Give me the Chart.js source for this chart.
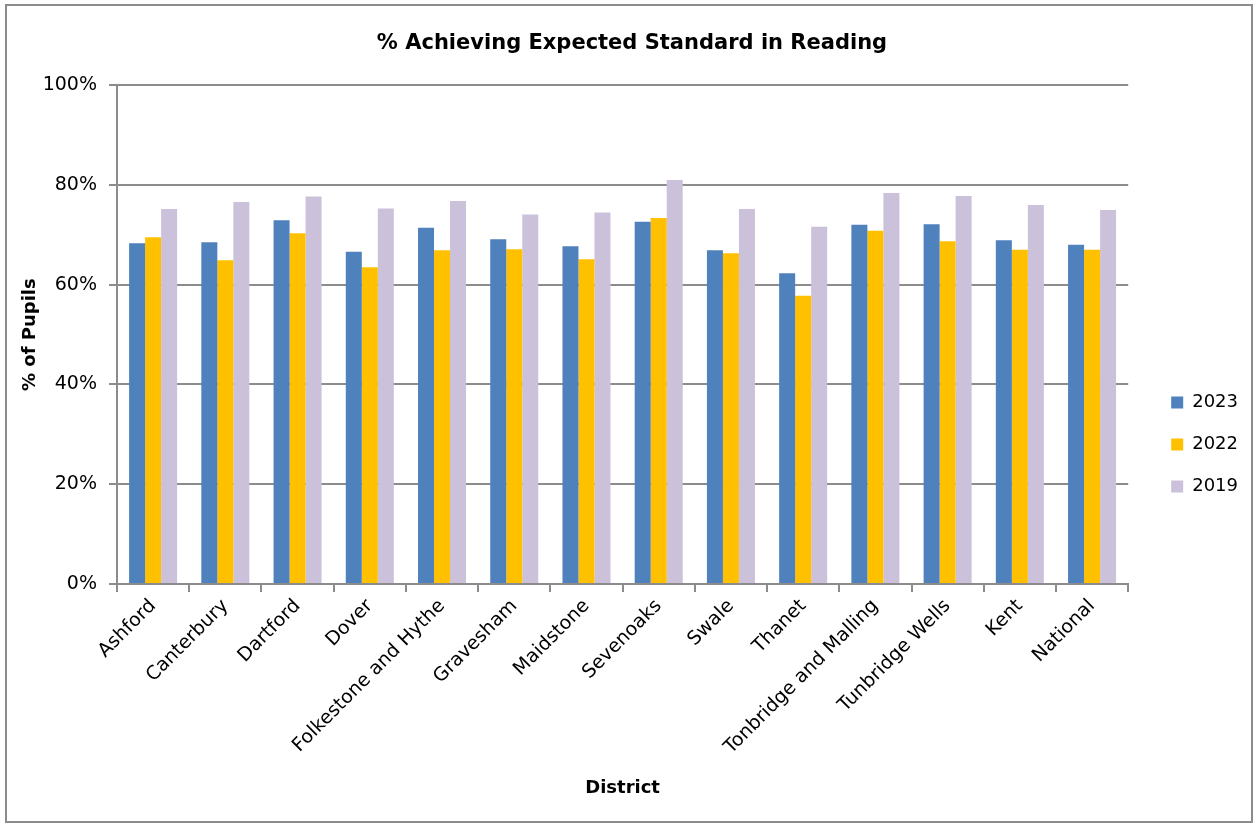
<!DOCTYPE html>
<html>
<head>
<meta charset="utf-8">
<title>% Achieving Expected Standard in Reading</title>
<script src="https://cdn.jsdelivr.net/npm/chart.js@4"></script>
<style>
    body { margin: 0; background: #fff; }
    #wrap { position: relative; width: 1258px; height: 825px; }
    #frame {
        position: absolute; left: 5px; top: 4px; width: 1244px; height: 815px;
        border: 2px solid #8c8c8c; pointer-events: none;
    }
</style>
</head>
<body>
<div id="wrap">
    <canvas id="readingChart" width="1258" height="825"></canvas>
    <div id="frame"></div>
</div>
<script>
// --- Data ---
const districts = ['Ashford', 'Canterbury', 'Dartford', 'Dover', 'Folkestone and Hythe', 'Gravesham',
    'Maidstone', 'Sevenoaks', 'Swale', 'Thanet', 'Tonbridge and Malling', 'Tunbridge Wells', 'Kent', 'National'];
const values2023 = [68.3, 68.5, 72.9, 66.6, 71.4, 69.1, 67.7, 72.6, 66.9, 62.3, 72.0, 72.1, 68.9, 68.0];
const values2022 = [69.5, 64.9, 70.3, 63.5, 66.9, 67.1, 65.1, 73.4, 66.3, 57.8, 70.8, 68.7, 67.0, 67.0];
const values2019 = [75.2, 76.6, 77.7, 75.3, 76.8, 74.1, 74.5, 81.0, 75.2, 71.6, 78.4, 77.8, 76.0, 75.0];
const yTicks = [0, 20, 40, 60, 80, 100];

const FONT = "'DejaVu Sans', Tahoma, sans-serif";
const GRID = '#8c8c8c';

const ctx = document.getElementById('readingChart').getContext('2d');

new Chart(ctx, {
    type: 'bar',
    data: {
        labels: districts,
        datasets: [
            { label: '2023', data: values2023, backgroundColor: '#4f81bd' },
            { label: '2022', data: values2022, backgroundColor: '#ffc000' },
            { label: '2019', data: values2019, backgroundColor: '#ccc1da' }
        ]
    },
    options: {
        responsive: false,
        animation: false,
        datasets: {
            bar: { categoryPercentage: 0.665, barPercentage: 1.0 }
        },
        layout: { padding: { left: 16, right: 10, top: 0, bottom: 22 } },
        scales: {
            x: {
                grid: { display: true, drawOnChartArea: false, offset: true, color: GRID, lineWidth: 2, tickLength: 8 },
                border: { color: GRID, width: 2 },
                ticks: { color: '#000', font: { family: FONT, size: 19 }, maxRotation: 45, minRotation: 45, autoSkip: false },
                title: { display: true, text: 'District', color: '#000', font: { family: FONT, size: 18, weight: 'bold' } },
                afterFit: (scale) => { scale.height = 219; }
            },
            y: {
                min: 0,
                max: 100,
                afterBuildTicks: (scale) => { scale.ticks = yTicks.map(v => ({ value: v })); },
                grid: { color: GRID, lineWidth: 2, tickLength: 8 },
                border: { color: GRID, width: 2 },
                ticks: { color: '#000', font: { family: FONT, size: 19 }, padding: 12, callback: (v) => v + '%' },
                title: { display: true, text: '% of Pupils', color: '#000', font: { family: FONT, size: 18, weight: 'bold' } },
                afterFit: (scale) => { scale.width = 101; }
            },
            // spacer between plot area and legend
            gap: {
                position: 'right',
                display: true,
                grid: { display: false },
                border: { display: false },
                ticks: { display: false },
                afterFit: (scale) => { scale.width = 19; }
            }
        },
        plugins: {
            title: {
                display: true,
                text: '% Achieving Expected Standard in Reading',
                color: '#000',
                font: { family: FONT, size: 21, weight: 'bold' },
                padding: { top: 31, bottom: 29 }
            },
            legend: {
                position: 'right',
                maxWidth: 111,
                // empty title only pushes the legend items down to the figure's middle
                title: { display: true, text: '', font: { size: 10 }, padding: { top: 0, bottom: 74 } },
                labels: {
                    color: '#000',
                    font: { family: FONT, size: 18 },
                    boxWidth: 12,
                    boxHeight: 12,
                    padding: 24
                }
            },
            tooltip: { enabled: false }
        }
    }
});
</script>
</body>
</html>
